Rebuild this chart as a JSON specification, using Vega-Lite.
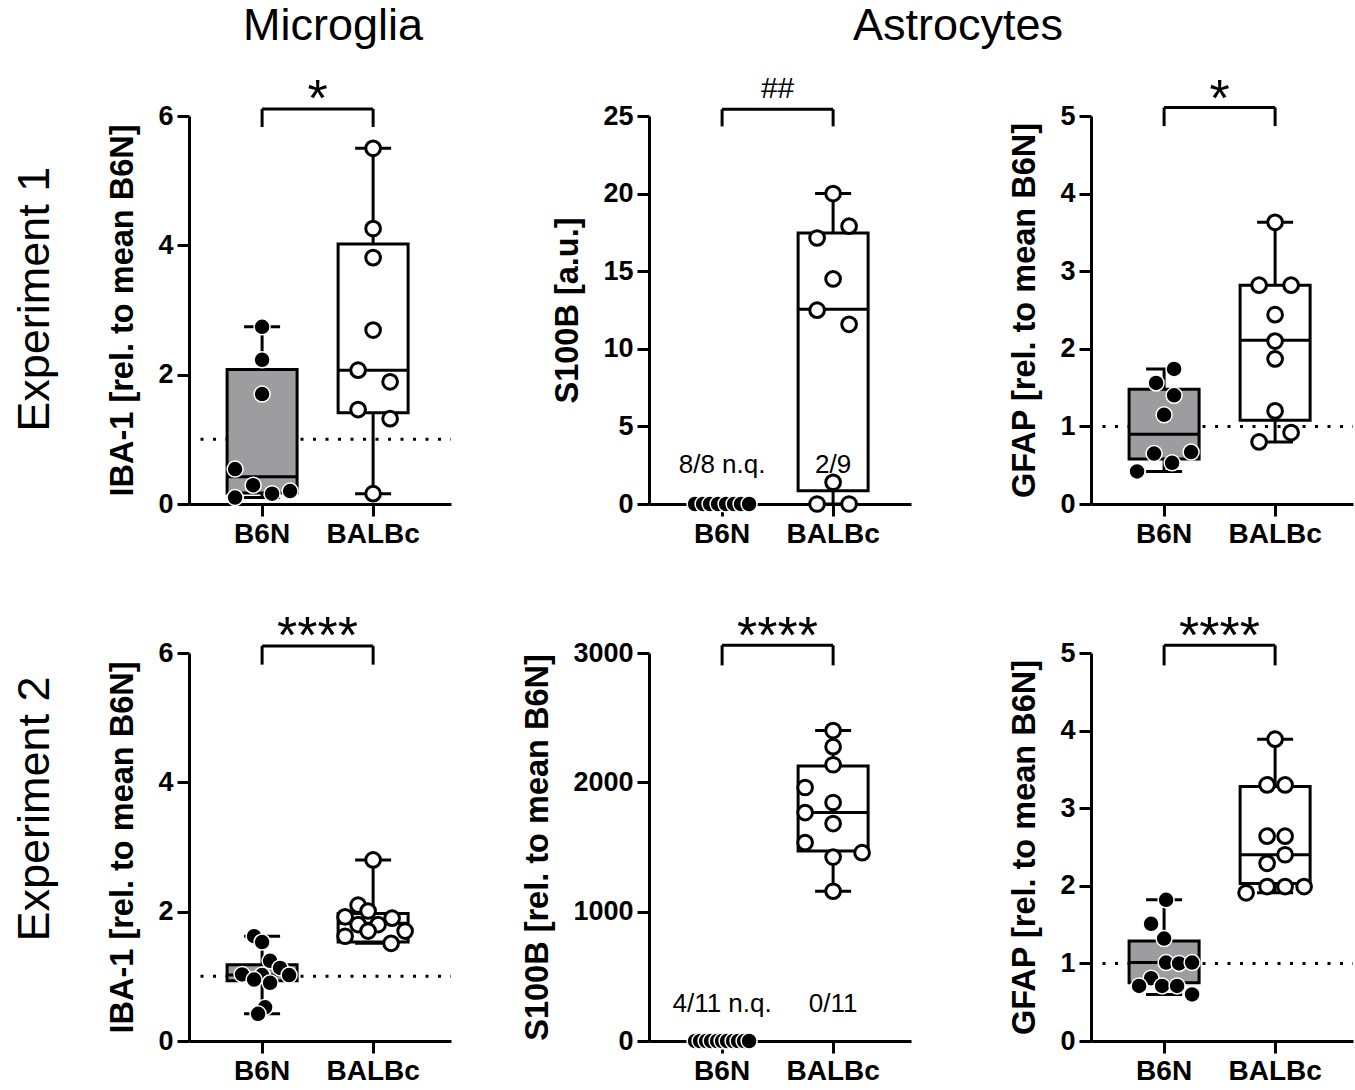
{
  "$schema": "https://vega.github.io/schema/vega-lite/v6.json",
  "background": "white",
  "padding": {"left": 12, "top": 3, "right": 0, "bottom": 0},
  "config": {
    "font": "Liberation Sans",
    "view": {"stroke": null},
    "axis": {"grid": false, "domainColor": "black", "domainWidth": 3, "tickColor": "black", "tickWidth": 3, "tickSize": 12, "labelColor": "black", "labelFontWeight": "bold", "titleColor": "black", "titleFontWeight": "bold", "labelFont": "Liberation Sans", "titleFont": "Liberation Sans"},
    "axisY": {"labelFontSize": 27, "titleFontSize": 32.5, "titlePadding": 18, "labelPadding": 4, "format": "d"},
    "axisX": {"labelFontSize": 28, "labelPadding": 4, "labelAngle": 0},
    "title": {"font": "Liberation Sans", "fontSize": 45, "fontWeight": "normal", "color": "black"},
    "rule": {"color": "black", "strokeWidth": 3},
    "tick": {"color": "black", "thickness": 3, "opacity": 1},
    "text": {"color": "black", "font": "Liberation Sans"}
  },
  "datasets": {
    "points": [
      {"panel": "IBA1_1", "group": "B6N", "value": 2.74, "jitter": 0},
      {"panel": "IBA1_1", "group": "B6N", "value": 2.23, "jitter": 0},
      {"panel": "IBA1_1", "group": "B6N", "value": 1.70, "jitter": 0},
      {"panel": "IBA1_1", "group": "B6N", "value": 0.54, "jitter": -27},
      {"panel": "IBA1_1", "group": "B6N", "value": 0.29, "jitter": -9},
      {"panel": "IBA1_1", "group": "B6N", "value": 0.10, "jitter": -27},
      {"panel": "IBA1_1", "group": "B6N", "value": 0.16, "jitter": 10},
      {"panel": "IBA1_1", "group": "B6N", "value": 0.20, "jitter": 28},
      {"panel": "IBA1_1", "group": "BALBc", "value": 5.50, "jitter": 0},
      {"panel": "IBA1_1", "group": "BALBc", "value": 4.26, "jitter": 0},
      {"panel": "IBA1_1", "group": "BALBc", "value": 3.81, "jitter": 0},
      {"panel": "IBA1_1", "group": "BALBc", "value": 2.69, "jitter": 0},
      {"panel": "IBA1_1", "group": "BALBc", "value": 2.07, "jitter": -15},
      {"panel": "IBA1_1", "group": "BALBc", "value": 1.89, "jitter": 17},
      {"panel": "IBA1_1", "group": "BALBc", "value": 1.46, "jitter": -15},
      {"panel": "IBA1_1", "group": "BALBc", "value": 1.32, "jitter": 17},
      {"panel": "IBA1_1", "group": "BALBc", "value": 0.16, "jitter": 0},
      {"panel": "S100B_1", "group": "B6N", "value": 0, "jitter": -27},
      {"panel": "S100B_1", "group": "B6N", "value": 0, "jitter": -19},
      {"panel": "S100B_1", "group": "B6N", "value": 0, "jitter": -12},
      {"panel": "S100B_1", "group": "B6N", "value": 0, "jitter": -4},
      {"panel": "S100B_1", "group": "B6N", "value": 0, "jitter": 4},
      {"panel": "S100B_1", "group": "B6N", "value": 0, "jitter": 12},
      {"panel": "S100B_1", "group": "B6N", "value": 0, "jitter": 19},
      {"panel": "S100B_1", "group": "B6N", "value": 0, "jitter": 27},
      {"panel": "S100B_1", "group": "BALBc", "value": 20.0, "jitter": 0},
      {"panel": "S100B_1", "group": "BALBc", "value": 17.9, "jitter": 16},
      {"panel": "S100B_1", "group": "BALBc", "value": 17.14, "jitter": -16},
      {"panel": "S100B_1", "group": "BALBc", "value": 14.5, "jitter": 0},
      {"panel": "S100B_1", "group": "BALBc", "value": 12.49, "jitter": -16},
      {"panel": "S100B_1", "group": "BALBc", "value": 11.58, "jitter": 16},
      {"panel": "S100B_1", "group": "BALBc", "value": 1.4, "jitter": 0},
      {"panel": "S100B_1", "group": "BALBc", "value": 0, "jitter": -16},
      {"panel": "S100B_1", "group": "BALBc", "value": 0, "jitter": 16},
      {"panel": "GFAP_1", "group": "B6N", "value": 1.74, "jitter": 10},
      {"panel": "GFAP_1", "group": "B6N", "value": 1.56, "jitter": -8},
      {"panel": "GFAP_1", "group": "B6N", "value": 1.40, "jitter": 10},
      {"panel": "GFAP_1", "group": "B6N", "value": 1.15, "jitter": 0},
      {"panel": "GFAP_1", "group": "B6N", "value": 0.65, "jitter": -10},
      {"panel": "GFAP_1", "group": "B6N", "value": 0.67, "jitter": 27},
      {"panel": "GFAP_1", "group": "B6N", "value": 0.53, "jitter": 8},
      {"panel": "GFAP_1", "group": "B6N", "value": 0.42, "jitter": -27},
      {"panel": "GFAP_1", "group": "BALBc", "value": 3.63, "jitter": 0},
      {"panel": "GFAP_1", "group": "BALBc", "value": 2.82, "jitter": -16},
      {"panel": "GFAP_1", "group": "BALBc", "value": 2.82, "jitter": 16},
      {"panel": "GFAP_1", "group": "BALBc", "value": 2.44, "jitter": 0},
      {"panel": "GFAP_1", "group": "BALBc", "value": 2.10, "jitter": 0},
      {"panel": "GFAP_1", "group": "BALBc", "value": 1.87, "jitter": 0},
      {"panel": "GFAP_1", "group": "BALBc", "value": 1.20, "jitter": 0},
      {"panel": "GFAP_1", "group": "BALBc", "value": 0.92, "jitter": 16},
      {"panel": "GFAP_1", "group": "BALBc", "value": 0.80, "jitter": -16},
      {"panel": "IBA1_2", "group": "B6N", "value": 1.62, "jitter": -8},
      {"panel": "IBA1_2", "group": "B6N", "value": 1.53, "jitter": 0},
      {"panel": "IBA1_2", "group": "B6N", "value": 1.24, "jitter": 8},
      {"panel": "IBA1_2", "group": "B6N", "value": 1.13, "jitter": 18},
      {"panel": "IBA1_2", "group": "B6N", "value": 1.03, "jitter": -20},
      {"panel": "IBA1_2", "group": "B6N", "value": 1.02, "jitter": 27},
      {"panel": "IBA1_2", "group": "B6N", "value": 1.02, "jitter": 0},
      {"panel": "IBA1_2", "group": "B6N", "value": 0.95, "jitter": -8},
      {"panel": "IBA1_2", "group": "B6N", "value": 0.90, "jitter": 8},
      {"panel": "IBA1_2", "group": "B6N", "value": 0.52, "jitter": 3},
      {"panel": "IBA1_2", "group": "B6N", "value": 0.42, "jitter": -4},
      {"panel": "IBA1_2", "group": "BALBc", "value": 2.80, "jitter": 0},
      {"panel": "IBA1_2", "group": "BALBc", "value": 2.10, "jitter": -15},
      {"panel": "IBA1_2", "group": "BALBc", "value": 2.01, "jitter": -5},
      {"panel": "IBA1_2", "group": "BALBc", "value": 1.92, "jitter": -28},
      {"panel": "IBA1_2", "group": "BALBc", "value": 1.90, "jitter": 19},
      {"panel": "IBA1_2", "group": "BALBc", "value": 1.80, "jitter": -15},
      {"panel": "IBA1_2", "group": "BALBc", "value": 1.80, "jitter": 5},
      {"panel": "IBA1_2", "group": "BALBc", "value": 1.70, "jitter": -5},
      {"panel": "IBA1_2", "group": "BALBc", "value": 1.70, "jitter": 32},
      {"panel": "IBA1_2", "group": "BALBc", "value": 1.62, "jitter": -28},
      {"panel": "IBA1_2", "group": "BALBc", "value": 1.51, "jitter": 18},
      {"panel": "S100B_2", "group": "B6N", "value": 0, "jitter": -27},
      {"panel": "S100B_2", "group": "B6N", "value": 0, "jitter": -22},
      {"panel": "S100B_2", "group": "B6N", "value": 0, "jitter": -16},
      {"panel": "S100B_2", "group": "B6N", "value": 0, "jitter": -11},
      {"panel": "S100B_2", "group": "B6N", "value": 0, "jitter": -5},
      {"panel": "S100B_2", "group": "B6N", "value": 0, "jitter": 0},
      {"panel": "S100B_2", "group": "B6N", "value": 0, "jitter": 5},
      {"panel": "S100B_2", "group": "B6N", "value": 0, "jitter": 11},
      {"panel": "S100B_2", "group": "B6N", "value": 0, "jitter": 16},
      {"panel": "S100B_2", "group": "B6N", "value": 0, "jitter": 22},
      {"panel": "S100B_2", "group": "B6N", "value": 0, "jitter": 27},
      {"panel": "S100B_2", "group": "BALBc", "value": 2400, "jitter": 0},
      {"panel": "S100B_2", "group": "BALBc", "value": 2276, "jitter": 0},
      {"panel": "S100B_2", "group": "BALBc", "value": 2136, "jitter": 0},
      {"panel": "S100B_2", "group": "BALBc", "value": 1960, "jitter": -28},
      {"panel": "S100B_2", "group": "BALBc", "value": 1844, "jitter": 0},
      {"panel": "S100B_2", "group": "BALBc", "value": 1766, "jitter": -28},
      {"panel": "S100B_2", "group": "BALBc", "value": 1681, "jitter": 0},
      {"panel": "S100B_2", "group": "BALBc", "value": 1534, "jitter": -28},
      {"panel": "S100B_2", "group": "BALBc", "value": 1456, "jitter": 29},
      {"panel": "S100B_2", "group": "BALBc", "value": 1422, "jitter": 0},
      {"panel": "S100B_2", "group": "BALBc", "value": 1158, "jitter": 0},
      {"panel": "GFAP_2", "group": "B6N", "value": 1.82, "jitter": 2},
      {"panel": "GFAP_2", "group": "B6N", "value": 1.51, "jitter": -13},
      {"panel": "GFAP_2", "group": "B6N", "value": 1.32, "jitter": 0},
      {"panel": "GFAP_2", "group": "B6N", "value": 1.01, "jitter": 2},
      {"panel": "GFAP_2", "group": "B6N", "value": 1.00, "jitter": 15},
      {"panel": "GFAP_2", "group": "B6N", "value": 1.01, "jitter": 28},
      {"panel": "GFAP_2", "group": "B6N", "value": 0.81, "jitter": -13},
      {"panel": "GFAP_2", "group": "B6N", "value": 0.71, "jitter": -25},
      {"panel": "GFAP_2", "group": "B6N", "value": 0.71, "jitter": -2},
      {"panel": "GFAP_2", "group": "B6N", "value": 0.71, "jitter": 13},
      {"panel": "GFAP_2", "group": "B6N", "value": 0.60, "jitter": 28},
      {"panel": "GFAP_2", "group": "BALBc", "value": 3.89, "jitter": 0},
      {"panel": "GFAP_2", "group": "BALBc", "value": 3.30, "jitter": -8},
      {"panel": "GFAP_2", "group": "BALBc", "value": 3.30, "jitter": 10},
      {"panel": "GFAP_2", "group": "BALBc", "value": 2.64, "jitter": -8},
      {"panel": "GFAP_2", "group": "BALBc", "value": 2.64, "jitter": 10},
      {"panel": "GFAP_2", "group": "BALBc", "value": 2.40, "jitter": 10},
      {"panel": "GFAP_2", "group": "BALBc", "value": 2.29, "jitter": -8},
      {"panel": "GFAP_2", "group": "BALBc", "value": 1.91, "jitter": -29},
      {"panel": "GFAP_2", "group": "BALBc", "value": 1.99, "jitter": -8},
      {"panel": "GFAP_2", "group": "BALBc", "value": 1.99, "jitter": 10},
      {"panel": "GFAP_2", "group": "BALBc", "value": 1.99, "jitter": 29}
    ],
    "boxes": [
      {"panel": "IBA1_1", "group": "B6N", "min": 0.10, "q1": 0.17, "median": 0.42, "q3": 2.08, "max": 2.74},
      {"panel": "IBA1_1", "group": "BALBc", "min": 0.16, "q1": 1.41, "median": 2.07, "q3": 4.02, "max": 5.50},
      {"panel": "S100B_1", "group": "BALBc", "min": 0, "q1": 0.86, "median": 12.55, "q3": 17.46, "max": 20.0},
      {"panel": "GFAP_1", "group": "B6N", "min": 0.42, "q1": 0.58, "median": 0.90, "q3": 1.48, "max": 1.74},
      {"panel": "GFAP_1", "group": "BALBc", "min": 0.80, "q1": 1.08, "median": 2.11, "q3": 2.82, "max": 3.63},
      {"panel": "IBA1_2", "group": "B6N", "min": 0.42, "q1": 0.93, "median": 1.02, "q3": 1.18, "max": 1.62},
      {"panel": "IBA1_2", "group": "BALBc", "min": 1.51, "q1": 1.53, "median": 1.82, "q3": 1.97, "max": 2.80},
      {"panel": "S100B_2", "group": "BALBc", "min": 1158, "q1": 1469, "median": 1766, "q3": 2126, "max": 2400},
      {"panel": "GFAP_2", "group": "B6N", "min": 0.60, "q1": 0.75, "median": 1.01, "q3": 1.29, "max": 1.82},
      {"panel": "GFAP_2", "group": "BALBc", "min": 1.91, "q1": 2.03, "median": 2.40, "q3": 3.28, "max": 3.89}
    ],
    "brackets": [
      {"panel": "IBA1_1", "g1": "B6N", "g2": "BALBc", "ytop": 6.11, "ybot": 5.83, "sig": "*", "sigy": 6},
      {"panel": "S100B_1", "g1": "B6N", "g2": "BALBc", "ytop": 25.43, "ybot": 24.33, "sig": "##", "sigy": 26.19},
      {"panel": "GFAP_1", "g1": "B6N", "g2": "BALBc", "ytop": 5.11, "ybot": 4.87, "sig": "*", "sigy": 5},
      {"panel": "IBA1_2", "g1": "B6N", "g2": "BALBc", "ytop": 6.11, "ybot": 5.82, "sig": "****", "sigy": 6},
      {"panel": "S100B_2", "g1": "B6N", "g2": "BALBc", "ytop": 3059, "ybot": 2904, "sig": "****", "sigy": 3000},
      {"panel": "GFAP_2", "g1": "B6N", "g2": "BALBc", "ytop": 5.10, "ybot": 4.84, "sig": "****", "sigy": 5}
    ],
    "notes": [
      {"panel": "S100B_1", "group": "B6N", "y": 1.98, "label": "8/8 n.q."},
      {"panel": "S100B_1", "group": "BALBc", "y": 1.98, "label": "2/9"},
      {"panel": "S100B_2", "group": "B6N", "y": 222, "label": "4/11 n.q."},
      {"panel": "S100B_2", "group": "BALBc", "y": 222, "label": "0/11"}
    ]
  },
  "spacing": 63,
  "vconcat": [
    {
      "title": {"text": "Experiment 1", "orient": "left", "anchor": "middle", "offset": 49, "dx": -23.5},
      "bounds": "flush",
      "spacing": 198,
      "hconcat": [
        {
          "width": 262, "height": 388,
          "title": {"text": "Microglia", "dx": 13, "offset": 25},
          "layer": [
            {"data": {"values": [{"ref": 1}]}, "mark": {"type": "rule", "strokeDash": [3, 9.5], "strokeDashOffset": -10}, "encoding": {"y": {"field": "ref", "type": "quantitative"}}},
            {"data": {"name": "boxes"}, "transform": [{"filter": "datum.panel === 'IBA1_1'"}], "mark": "rule",
             "encoding": {"x": {"field": "group", "type": "nominal", "scale": {"type": "band", "domain": ["B6N", "BALBc"], "paddingInner": 0, "paddingOuter": 0.18, "align": 0.44}, "axis": {"title": null}},
                          "y": {"field": "min", "type": "quantitative", "scale": {"domain": [0, 6], "nice": false}, "axis": {"title": "IBA-1 [rel. to mean B6N]", "values": [0, 2, 4, 6]}}, "y2": {"field": "max"}}},
            {"data": {"name": "boxes"}, "transform": [{"filter": "datum.panel === 'IBA1_1'"}], "mark": {"type": "bar", "width": 70, "stroke": "black", "strokeWidth": 3},
             "encoding": {"x": {"field": "group", "type": "nominal"}, "y": {"field": "q1", "type": "quantitative"}, "y2": {"field": "q3"},
                          "fill": {"condition": {"test": "datum.group === 'B6N'", "value": "#9d9d9f"}, "value": "white"}}},
            {"data": {"name": "boxes"}, "transform": [{"filter": "datum.panel === 'IBA1_1'"}], "mark": {"type": "tick", "size": 70},
             "encoding": {"x": {"field": "group", "type": "nominal"}, "y": {"field": "median", "type": "quantitative"}}},
            {"data": {"name": "boxes"}, "transform": [{"filter": "datum.panel === 'IBA1_1'"}], "mark": {"type": "tick", "size": 36},
             "encoding": {"x": {"field": "group", "type": "nominal"}, "y": {"field": "min", "type": "quantitative"}}},
            {"data": {"name": "boxes"}, "transform": [{"filter": "datum.panel === 'IBA1_1'"}], "mark": {"type": "tick", "size": 36},
             "encoding": {"x": {"field": "group", "type": "nominal"}, "y": {"field": "max", "type": "quantitative"}}},
            {"data": {"name": "points"}, "transform": [{"filter": "datum.panel === 'IBA1_1'"}], "mark": {"type": "circle", "opacity": 1},
             "encoding": {"x": {"field": "group", "type": "nominal"},
                          "xOffset": {"field": "jitter", "type": "quantitative", "scale": {"domain": [-30, 30], "range": [25.5, 85.5]}},
                          "y": {"field": "value", "type": "quantitative"},
                          "fill": {"condition": {"test": "datum.group === 'B6N'", "value": "black"}, "value": "white"},
                          "stroke": {"condition": {"test": "datum.group === 'B6N'", "value": "white"}, "value": "black"},
                          "strokeWidth": {"condition": {"test": "datum.group === 'B6N'", "value": 1.5}, "value": 3},
                          "size": {"condition": {"test": "datum.group === 'B6N'", "value": 256}, "value": 216}}},
            {"data": {"name": "brackets"}, "transform": [{"filter": "datum.panel === 'IBA1_1'"}], "mark": "rule",
             "encoding": {"x": {"field": "g1", "type": "nominal"}, "x2": {"field": "g2"}, "y": {"field": "ytop", "type": "quantitative"}}},
            {"data": {"name": "brackets"}, "transform": [{"filter": "datum.panel === 'IBA1_1'"}], "mark": "rule",
             "encoding": {"x": {"field": "g1", "type": "nominal"}, "y": {"field": "ybot", "type": "quantitative"}, "y2": {"field": "ytop"}}},
            {"data": {"name": "brackets"}, "transform": [{"filter": "datum.panel === 'IBA1_1'"}], "mark": "rule",
             "encoding": {"x": {"field": "g2", "type": "nominal"}, "y": {"field": "ybot", "type": "quantitative"}, "y2": {"field": "ytop"}}},
            {"data": {"name": "brackets"}, "transform": [{"filter": "datum.panel === 'IBA1_1'"}], "mark": {"type": "text", "dx": 55.5, "dy": 0, "baseline": "alphabetic", "align": "center"},
             "encoding": {"x": {"field": "g1", "type": "nominal"}, "y": {"field": "sigy", "type": "quantitative"}, "text": {"field": "sig"},
                          "size": {"condition": {"test": "datum.sig === '##'", "value": 30}, "value": 52}}}
          ]
        },
        {
          "title": {"text": "Astrocytes", "dx": 301, "offset": 25},
          "bounds": "flush",
          "spacing": 180,
          "hconcat": [
            {
              "width": 262, "height": 388,
              "layer": [
                {"data": {"name": "boxes"}, "transform": [{"filter": "datum.panel === 'S100B_1'"}], "mark": "rule",
                 "encoding": {"x": {"field": "group", "type": "nominal", "scale": {"type": "band", "domain": ["B6N", "BALBc"], "paddingInner": 0, "paddingOuter": 0.18, "align": 0.44}, "axis": {"title": null}},
                              "y": {"field": "min", "type": "quantitative", "scale": {"domain": [0, 25], "nice": false}, "axis": {"title": "S100B [a.u.]", "values": [0, 5, 10, 15, 20, 25]}}, "y2": {"field": "max"}}},
                {"data": {"name": "boxes"}, "transform": [{"filter": "datum.panel === 'S100B_1'"}], "mark": {"type": "bar", "width": 70, "stroke": "black", "strokeWidth": 3},
                 "encoding": {"x": {"field": "group", "type": "nominal"}, "y": {"field": "q1", "type": "quantitative"}, "y2": {"field": "q3"},
                              "fill": {"condition": {"test": "datum.group === 'B6N'", "value": "#9d9d9f"}, "value": "white"}}},
                {"data": {"name": "boxes"}, "transform": [{"filter": "datum.panel === 'S100B_1'"}], "mark": {"type": "tick", "size": 70},
                 "encoding": {"x": {"field": "group", "type": "nominal"}, "y": {"field": "median", "type": "quantitative"}}},
                {"data": {"name": "boxes"}, "transform": [{"filter": "datum.panel === 'S100B_1'"}], "mark": {"type": "tick", "size": 36},
                 "encoding": {"x": {"field": "group", "type": "nominal"}, "y": {"field": "min", "type": "quantitative"}}},
                {"data": {"name": "boxes"}, "transform": [{"filter": "datum.panel === 'S100B_1'"}], "mark": {"type": "tick", "size": 36},
                 "encoding": {"x": {"field": "group", "type": "nominal"}, "y": {"field": "max", "type": "quantitative"}}},
                {"data": {"name": "points"}, "transform": [{"filter": "datum.panel === 'S100B_1'"}], "mark": {"type": "circle", "opacity": 1},
                 "encoding": {"x": {"field": "group", "type": "nominal"},
                              "xOffset": {"field": "jitter", "type": "quantitative", "scale": {"domain": [-30, 30], "range": [25.5, 85.5]}},
                              "y": {"field": "value", "type": "quantitative"},
                              "fill": {"condition": {"test": "datum.group === 'B6N'", "value": "black"}, "value": "white"},
                              "stroke": {"condition": {"test": "datum.group === 'B6N'", "value": "white"}, "value": "black"},
                              "strokeWidth": {"condition": {"test": "datum.group === 'B6N'", "value": 1.5}, "value": 3},
                              "size": {"condition": {"test": "datum.group === 'B6N'", "value": 256}, "value": 216}}},
                {"data": {"name": "notes"}, "transform": [{"filter": "datum.panel === 'S100B_1'"}], "mark": {"type": "text", "fontSize": 26, "baseline": "alphabetic", "align": "center"},
                 "encoding": {"x": {"field": "group", "type": "nominal"}, "y": {"field": "y", "type": "quantitative"}, "text": {"field": "label"}}},
                {"data": {"name": "brackets"}, "transform": [{"filter": "datum.panel === 'S100B_1'"}], "mark": "rule",
                 "encoding": {"x": {"field": "g1", "type": "nominal"}, "x2": {"field": "g2"}, "y": {"field": "ytop", "type": "quantitative"}}},
                {"data": {"name": "brackets"}, "transform": [{"filter": "datum.panel === 'S100B_1'"}], "mark": "rule",
                 "encoding": {"x": {"field": "g1", "type": "nominal"}, "y": {"field": "ybot", "type": "quantitative"}, "y2": {"field": "ytop"}}},
                {"data": {"name": "brackets"}, "transform": [{"filter": "datum.panel === 'S100B_1'"}], "mark": "rule",
                 "encoding": {"x": {"field": "g2", "type": "nominal"}, "y": {"field": "ybot", "type": "quantitative"}, "y2": {"field": "ytop"}}},
                {"data": {"name": "brackets"}, "transform": [{"filter": "datum.panel === 'S100B_1'"}], "mark": {"type": "text", "dx": 55.5, "dy": 0, "baseline": "alphabetic", "align": "center"},
                 "encoding": {"x": {"field": "g1", "type": "nominal"}, "y": {"field": "sigy", "type": "quantitative"}, "text": {"field": "sig"},
                              "size": {"condition": {"test": "datum.sig === '##'", "value": 30}, "value": 52}}}
              ]
            },
            {
              "width": 262, "height": 388,
              "layer": [
                {"data": {"values": [{"ref": 1}]}, "mark": {"type": "rule", "strokeDash": [3, 9.5], "strokeDashOffset": -10}, "encoding": {"y": {"field": "ref", "type": "quantitative"}}},
                {"data": {"name": "boxes"}, "transform": [{"filter": "datum.panel === 'GFAP_1'"}], "mark": "rule",
                 "encoding": {"x": {"field": "group", "type": "nominal", "scale": {"type": "band", "domain": ["B6N", "BALBc"], "paddingInner": 0, "paddingOuter": 0.18, "align": 0.44}, "axis": {"title": null}},
                              "y": {"field": "min", "type": "quantitative", "scale": {"domain": [0, 5], "nice": false}, "axis": {"title": "GFAP [rel. to mean B6N]", "values": [0, 1, 2, 3, 4, 5]}}, "y2": {"field": "max"}}},
                {"data": {"name": "boxes"}, "transform": [{"filter": "datum.panel === 'GFAP_1'"}], "mark": {"type": "bar", "width": 70, "stroke": "black", "strokeWidth": 3},
                 "encoding": {"x": {"field": "group", "type": "nominal"}, "y": {"field": "q1", "type": "quantitative"}, "y2": {"field": "q3"},
                              "fill": {"condition": {"test": "datum.group === 'B6N'", "value": "#9d9d9f"}, "value": "white"}}},
                {"data": {"name": "boxes"}, "transform": [{"filter": "datum.panel === 'GFAP_1'"}], "mark": {"type": "tick", "size": 70},
                 "encoding": {"x": {"field": "group", "type": "nominal"}, "y": {"field": "median", "type": "quantitative"}}},
                {"data": {"name": "boxes"}, "transform": [{"filter": "datum.panel === 'GFAP_1'"}], "mark": {"type": "tick", "size": 36},
                 "encoding": {"x": {"field": "group", "type": "nominal"}, "y": {"field": "min", "type": "quantitative"}}},
                {"data": {"name": "boxes"}, "transform": [{"filter": "datum.panel === 'GFAP_1'"}], "mark": {"type": "tick", "size": 36},
                 "encoding": {"x": {"field": "group", "type": "nominal"}, "y": {"field": "max", "type": "quantitative"}}},
                {"data": {"name": "points"}, "transform": [{"filter": "datum.panel === 'GFAP_1'"}], "mark": {"type": "circle", "opacity": 1},
                 "encoding": {"x": {"field": "group", "type": "nominal"},
                              "xOffset": {"field": "jitter", "type": "quantitative", "scale": {"domain": [-30, 30], "range": [25.5, 85.5]}},
                              "y": {"field": "value", "type": "quantitative"},
                              "fill": {"condition": {"test": "datum.group === 'B6N'", "value": "black"}, "value": "white"},
                              "stroke": {"condition": {"test": "datum.group === 'B6N'", "value": "white"}, "value": "black"},
                              "strokeWidth": {"condition": {"test": "datum.group === 'B6N'", "value": 1.5}, "value": 3},
                              "size": {"condition": {"test": "datum.group === 'B6N'", "value": 256}, "value": 216}}},
                {"data": {"name": "brackets"}, "transform": [{"filter": "datum.panel === 'GFAP_1'"}], "mark": "rule",
                 "encoding": {"x": {"field": "g1", "type": "nominal"}, "x2": {"field": "g2"}, "y": {"field": "ytop", "type": "quantitative"}}},
                {"data": {"name": "brackets"}, "transform": [{"filter": "datum.panel === 'GFAP_1'"}], "mark": "rule",
                 "encoding": {"x": {"field": "g1", "type": "nominal"}, "y": {"field": "ybot", "type": "quantitative"}, "y2": {"field": "ytop"}}},
                {"data": {"name": "brackets"}, "transform": [{"filter": "datum.panel === 'GFAP_1'"}], "mark": "rule",
                 "encoding": {"x": {"field": "g2", "type": "nominal"}, "y": {"field": "ybot", "type": "quantitative"}, "y2": {"field": "ytop"}}},
                {"data": {"name": "brackets"}, "transform": [{"filter": "datum.panel === 'GFAP_1'"}], "mark": {"type": "text", "dx": 55.5, "dy": 0, "baseline": "alphabetic", "align": "center"},
                 "encoding": {"x": {"field": "g1", "type": "nominal"}, "y": {"field": "sigy", "type": "quantitative"}, "text": {"field": "sig"},
                              "size": {"condition": {"test": "datum.sig === '##'", "value": 30}, "value": 52}}}
              ]
            }
          ]
        }
      ]
    },
    {
      "title": {"text": "Experiment 2", "orient": "left", "anchor": "middle", "offset": 49, "dx": 39},
      "bounds": "flush",
      "spacing": 198,
      "hconcat": [
        {
          "width": 262, "height": 388,
          "layer": [
            {"data": {"values": [{"ref": 1}]}, "mark": {"type": "rule", "strokeDash": [3, 9.5], "strokeDashOffset": -10}, "encoding": {"y": {"field": "ref", "type": "quantitative"}}},
            {"data": {"name": "boxes"}, "transform": [{"filter": "datum.panel === 'IBA1_2'"}], "mark": "rule",
             "encoding": {"x": {"field": "group", "type": "nominal", "scale": {"type": "band", "domain": ["B6N", "BALBc"], "paddingInner": 0, "paddingOuter": 0.18, "align": 0.44}, "axis": {"title": null}},
                          "y": {"field": "min", "type": "quantitative", "scale": {"domain": [0, 6], "nice": false}, "axis": {"title": "IBA-1 [rel. to mean B6N]", "values": [0, 2, 4, 6]}}, "y2": {"field": "max"}}},
            {"data": {"name": "boxes"}, "transform": [{"filter": "datum.panel === 'IBA1_2'"}], "mark": {"type": "bar", "width": 70, "stroke": "black", "strokeWidth": 3},
             "encoding": {"x": {"field": "group", "type": "nominal"}, "y": {"field": "q1", "type": "quantitative"}, "y2": {"field": "q3"},
                          "fill": {"condition": {"test": "datum.group === 'B6N'", "value": "#9d9d9f"}, "value": "white"}}},
            {"data": {"name": "boxes"}, "transform": [{"filter": "datum.panel === 'IBA1_2'"}], "mark": {"type": "tick", "size": 70},
             "encoding": {"x": {"field": "group", "type": "nominal"}, "y": {"field": "median", "type": "quantitative"}}},
            {"data": {"name": "boxes"}, "transform": [{"filter": "datum.panel === 'IBA1_2'"}], "mark": {"type": "tick", "size": 36},
             "encoding": {"x": {"field": "group", "type": "nominal"}, "y": {"field": "min", "type": "quantitative"}}},
            {"data": {"name": "boxes"}, "transform": [{"filter": "datum.panel === 'IBA1_2'"}], "mark": {"type": "tick", "size": 36},
             "encoding": {"x": {"field": "group", "type": "nominal"}, "y": {"field": "max", "type": "quantitative"}}},
            {"data": {"name": "points"}, "transform": [{"filter": "datum.panel === 'IBA1_2'"}], "mark": {"type": "circle", "opacity": 1},
             "encoding": {"x": {"field": "group", "type": "nominal"},
                          "xOffset": {"field": "jitter", "type": "quantitative", "scale": {"domain": [-30, 30], "range": [25.5, 85.5]}},
                          "y": {"field": "value", "type": "quantitative"},
                          "fill": {"condition": {"test": "datum.group === 'B6N'", "value": "black"}, "value": "white"},
                          "stroke": {"condition": {"test": "datum.group === 'B6N'", "value": "white"}, "value": "black"},
                          "strokeWidth": {"condition": {"test": "datum.group === 'B6N'", "value": 1.5}, "value": 3},
                          "size": {"condition": {"test": "datum.group === 'B6N'", "value": 256}, "value": 216}}},
            {"data": {"name": "brackets"}, "transform": [{"filter": "datum.panel === 'IBA1_2'"}], "mark": "rule",
             "encoding": {"x": {"field": "g1", "type": "nominal"}, "x2": {"field": "g2"}, "y": {"field": "ytop", "type": "quantitative"}}},
            {"data": {"name": "brackets"}, "transform": [{"filter": "datum.panel === 'IBA1_2'"}], "mark": "rule",
             "encoding": {"x": {"field": "g1", "type": "nominal"}, "y": {"field": "ybot", "type": "quantitative"}, "y2": {"field": "ytop"}}},
            {"data": {"name": "brackets"}, "transform": [{"filter": "datum.panel === 'IBA1_2'"}], "mark": "rule",
             "encoding": {"x": {"field": "g2", "type": "nominal"}, "y": {"field": "ybot", "type": "quantitative"}, "y2": {"field": "ytop"}}},
            {"data": {"name": "brackets"}, "transform": [{"filter": "datum.panel === 'IBA1_2'"}], "mark": {"type": "text", "dx": 55.5, "dy": 0, "baseline": "alphabetic", "align": "center"},
             "encoding": {"x": {"field": "g1", "type": "nominal"}, "y": {"field": "sigy", "type": "quantitative"}, "text": {"field": "sig"},
                          "size": {"condition": {"test": "datum.sig === '##'", "value": 30}, "value": 52}}}
          ]
        },
        {
          "bounds": "flush",
          "spacing": 180,
          "hconcat": [
            {
              "width": 262, "height": 388,
              "layer": [
                {"data": {"name": "boxes"}, "transform": [{"filter": "datum.panel === 'S100B_2'"}], "mark": "rule",
                 "encoding": {"x": {"field": "group", "type": "nominal", "scale": {"type": "band", "domain": ["B6N", "BALBc"], "paddingInner": 0, "paddingOuter": 0.18, "align": 0.44}, "axis": {"title": null}},
                              "y": {"field": "min", "type": "quantitative", "scale": {"domain": [0, 3000], "nice": false}, "axis": {"title": "S100B [rel. to mean B6N]", "values": [0, 1000, 2000, 3000]}}, "y2": {"field": "max"}}},
                {"data": {"name": "boxes"}, "transform": [{"filter": "datum.panel === 'S100B_2'"}], "mark": {"type": "bar", "width": 70, "stroke": "black", "strokeWidth": 3},
                 "encoding": {"x": {"field": "group", "type": "nominal"}, "y": {"field": "q1", "type": "quantitative"}, "y2": {"field": "q3"},
                              "fill": {"condition": {"test": "datum.group === 'B6N'", "value": "#9d9d9f"}, "value": "white"}}},
                {"data": {"name": "boxes"}, "transform": [{"filter": "datum.panel === 'S100B_2'"}], "mark": {"type": "tick", "size": 70},
                 "encoding": {"x": {"field": "group", "type": "nominal"}, "y": {"field": "median", "type": "quantitative"}}},
                {"data": {"name": "boxes"}, "transform": [{"filter": "datum.panel === 'S100B_2'"}], "mark": {"type": "tick", "size": 36},
                 "encoding": {"x": {"field": "group", "type": "nominal"}, "y": {"field": "min", "type": "quantitative"}}},
                {"data": {"name": "boxes"}, "transform": [{"filter": "datum.panel === 'S100B_2'"}], "mark": {"type": "tick", "size": 36},
                 "encoding": {"x": {"field": "group", "type": "nominal"}, "y": {"field": "max", "type": "quantitative"}}},
                {"data": {"name": "points"}, "transform": [{"filter": "datum.panel === 'S100B_2'"}], "mark": {"type": "circle", "opacity": 1},
                 "encoding": {"x": {"field": "group", "type": "nominal"},
                              "xOffset": {"field": "jitter", "type": "quantitative", "scale": {"domain": [-30, 30], "range": [25.5, 85.5]}},
                              "y": {"field": "value", "type": "quantitative"},
                              "fill": {"condition": {"test": "datum.group === 'B6N'", "value": "black"}, "value": "white"},
                              "stroke": {"condition": {"test": "datum.group === 'B6N'", "value": "white"}, "value": "black"},
                              "strokeWidth": {"condition": {"test": "datum.group === 'B6N'", "value": 1.5}, "value": 3},
                              "size": {"condition": {"test": "datum.group === 'B6N'", "value": 256}, "value": 216}}},
                {"data": {"name": "notes"}, "transform": [{"filter": "datum.panel === 'S100B_2'"}], "mark": {"type": "text", "fontSize": 26, "baseline": "alphabetic", "align": "center"},
                 "encoding": {"x": {"field": "group", "type": "nominal"}, "y": {"field": "y", "type": "quantitative"}, "text": {"field": "label"}}},
                {"data": {"name": "brackets"}, "transform": [{"filter": "datum.panel === 'S100B_2'"}], "mark": "rule",
                 "encoding": {"x": {"field": "g1", "type": "nominal"}, "x2": {"field": "g2"}, "y": {"field": "ytop", "type": "quantitative"}}},
                {"data": {"name": "brackets"}, "transform": [{"filter": "datum.panel === 'S100B_2'"}], "mark": "rule",
                 "encoding": {"x": {"field": "g1", "type": "nominal"}, "y": {"field": "ybot", "type": "quantitative"}, "y2": {"field": "ytop"}}},
                {"data": {"name": "brackets"}, "transform": [{"filter": "datum.panel === 'S100B_2'"}], "mark": "rule",
                 "encoding": {"x": {"field": "g2", "type": "nominal"}, "y": {"field": "ybot", "type": "quantitative"}, "y2": {"field": "ytop"}}},
                {"data": {"name": "brackets"}, "transform": [{"filter": "datum.panel === 'S100B_2'"}], "mark": {"type": "text", "dx": 55.5, "dy": 0, "baseline": "alphabetic", "align": "center"},
                 "encoding": {"x": {"field": "g1", "type": "nominal"}, "y": {"field": "sigy", "type": "quantitative"}, "text": {"field": "sig"},
                              "size": {"condition": {"test": "datum.sig === '##'", "value": 30}, "value": 52}}}
              ]
            },
            {
              "width": 262, "height": 388,
              "layer": [
                {"data": {"values": [{"ref": 1}]}, "mark": {"type": "rule", "strokeDash": [3, 9.5], "strokeDashOffset": -10}, "encoding": {"y": {"field": "ref", "type": "quantitative"}}},
                {"data": {"name": "boxes"}, "transform": [{"filter": "datum.panel === 'GFAP_2'"}], "mark": "rule",
                 "encoding": {"x": {"field": "group", "type": "nominal", "scale": {"type": "band", "domain": ["B6N", "BALBc"], "paddingInner": 0, "paddingOuter": 0.18, "align": 0.44}, "axis": {"title": null}},
                              "y": {"field": "min", "type": "quantitative", "scale": {"domain": [0, 5], "nice": false}, "axis": {"title": "GFAP [rel. to mean B6N]", "values": [0, 1, 2, 3, 4, 5]}}, "y2": {"field": "max"}}},
                {"data": {"name": "boxes"}, "transform": [{"filter": "datum.panel === 'GFAP_2'"}], "mark": {"type": "bar", "width": 70, "stroke": "black", "strokeWidth": 3},
                 "encoding": {"x": {"field": "group", "type": "nominal"}, "y": {"field": "q1", "type": "quantitative"}, "y2": {"field": "q3"},
                              "fill": {"condition": {"test": "datum.group === 'B6N'", "value": "#9d9d9f"}, "value": "white"}}},
                {"data": {"name": "boxes"}, "transform": [{"filter": "datum.panel === 'GFAP_2'"}], "mark": {"type": "tick", "size": 70},
                 "encoding": {"x": {"field": "group", "type": "nominal"}, "y": {"field": "median", "type": "quantitative"}}},
                {"data": {"name": "boxes"}, "transform": [{"filter": "datum.panel === 'GFAP_2'"}], "mark": {"type": "tick", "size": 36},
                 "encoding": {"x": {"field": "group", "type": "nominal"}, "y": {"field": "min", "type": "quantitative"}}},
                {"data": {"name": "boxes"}, "transform": [{"filter": "datum.panel === 'GFAP_2'"}], "mark": {"type": "tick", "size": 36},
                 "encoding": {"x": {"field": "group", "type": "nominal"}, "y": {"field": "max", "type": "quantitative"}}},
                {"data": {"name": "points"}, "transform": [{"filter": "datum.panel === 'GFAP_2'"}], "mark": {"type": "circle", "opacity": 1},
                 "encoding": {"x": {"field": "group", "type": "nominal"},
                              "xOffset": {"field": "jitter", "type": "quantitative", "scale": {"domain": [-30, 30], "range": [25.5, 85.5]}},
                              "y": {"field": "value", "type": "quantitative"},
                              "fill": {"condition": {"test": "datum.group === 'B6N'", "value": "black"}, "value": "white"},
                              "stroke": {"condition": {"test": "datum.group === 'B6N'", "value": "white"}, "value": "black"},
                              "strokeWidth": {"condition": {"test": "datum.group === 'B6N'", "value": 1.5}, "value": 3},
                              "size": {"condition": {"test": "datum.group === 'B6N'", "value": 256}, "value": 216}}},
                {"data": {"name": "brackets"}, "transform": [{"filter": "datum.panel === 'GFAP_2'"}], "mark": "rule",
                 "encoding": {"x": {"field": "g1", "type": "nominal"}, "x2": {"field": "g2"}, "y": {"field": "ytop", "type": "quantitative"}}},
                {"data": {"name": "brackets"}, "transform": [{"filter": "datum.panel === 'GFAP_2'"}], "mark": "rule",
                 "encoding": {"x": {"field": "g1", "type": "nominal"}, "y": {"field": "ybot", "type": "quantitative"}, "y2": {"field": "ytop"}}},
                {"data": {"name": "brackets"}, "transform": [{"filter": "datum.panel === 'GFAP_2'"}], "mark": "rule",
                 "encoding": {"x": {"field": "g2", "type": "nominal"}, "y": {"field": "ybot", "type": "quantitative"}, "y2": {"field": "ytop"}}},
                {"data": {"name": "brackets"}, "transform": [{"filter": "datum.panel === 'GFAP_2'"}], "mark": {"type": "text", "dx": 55.5, "dy": 0, "baseline": "alphabetic", "align": "center"},
                 "encoding": {"x": {"field": "g1", "type": "nominal"}, "y": {"field": "sigy", "type": "quantitative"}, "text": {"field": "sig"},
                              "size": {"condition": {"test": "datum.sig === '##'", "value": 30}, "value": 52}}}
              ]
            }
          ]
        }
      ]
    }
  ]
}
